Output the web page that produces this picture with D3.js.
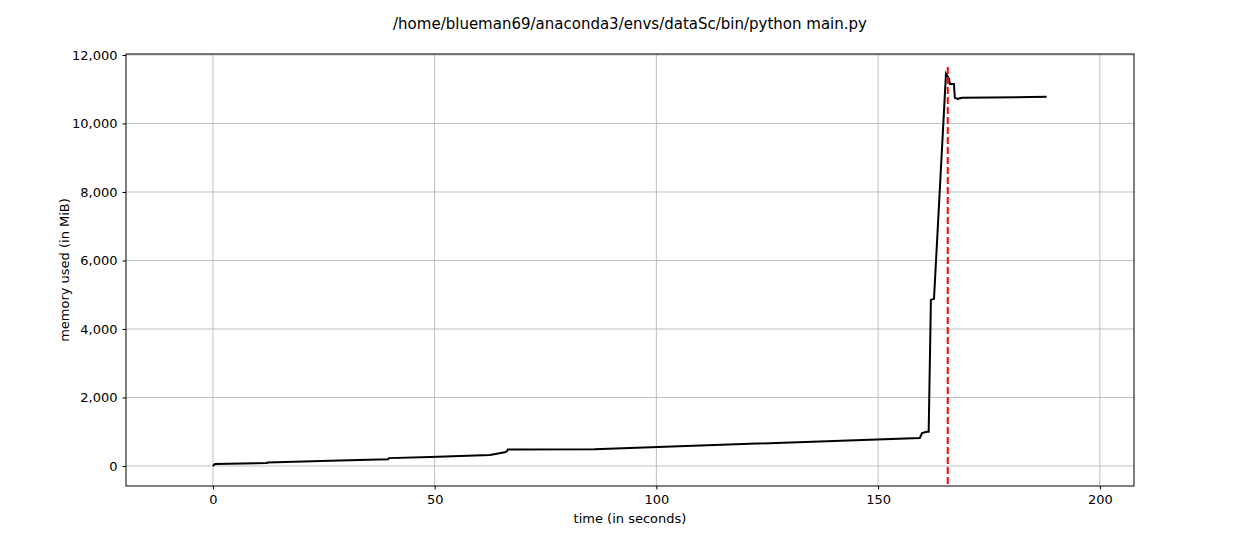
<!DOCTYPE html>
<html>
<head>
<meta charset="utf-8">
<script src="https://cdn.jsdelivr.net/npm/d3@7"></script>
<style>
  body { margin: 0; background: #fff; }
  text { font-family: "DejaVu Sans", sans-serif; }
</style>
</head>
<body>
<div id="plot"></div>
<script>
// time (s) and memory (MiB)
var times = [0, 0.45, 12.2, 12.3, 26.4, 39.5, 39.7, 49, 62.5, 65.8, 66.3, 66.5, 86, 159.4, 159.9, 161, 161.4, 161.9, 162.6, 165.3, 166, 166.2, 167.1, 167.3, 168, 168.9, 188];
var mems  = [0, 60, 90, 100, 150, 200, 230, 260, 320, 400, 430, 480, 490, 820, 960, 1000, 1000, 4850, 4880, 11450, 11300, 11150, 11150, 10750, 10720, 10750, 10780];
var peakTime = 165.7;
var xTicks = [0, 50, 100, 150, 200];
var yTicks = [0, 2000, 4000, 6000, 8000, 10000, 12000];

var data = times.map(function(t, i) { return {t: t, m: mems[i]}; });

var W = 1260, H = 540;
var margin = {top: 54, right: 126, bottom: 54, left: 126},
    width = 1134 - 126,
    height = 486 - 54;

var svg = d3.select("#plot").append("svg")
  .attr("width", W).attr("height", H);

svg.append("text")
  .attr("x", 630).attr("y", 29)
  .attr("text-anchor", "middle")
  .style("font-size", "15px")
  .text("/home/blueman69/anaconda3/envs/dataSc/bin/python main.py");

var g = svg.append("g")
  .attr("transform", "translate(" + margin.left + "," + margin.top + ")");

var x = d3.scaleLinear().domain([-19.6, 207.7]).range([0, width]);
var y = d3.scaleLinear().domain([-584, 12029]).range([height, 0]);

// grid
g.selectAll(".vgrid").data(xTicks).enter().append("line")
  .attr("x1", d => x(d)).attr("x2", d => x(d))
  .attr("y1", 0).attr("y2", height)
  .attr("stroke", "#b0b0b0").attr("stroke-width", 0.8);
g.selectAll(".hgrid").data(yTicks).enter().append("line")
  .attr("y1", d => y(d)).attr("y2", d => y(d))
  .attr("x1", 0).attr("x2", width)
  .attr("stroke", "#b0b0b0").attr("stroke-width", 0.8);

// axes
var xAxis = d3.axisBottom(x).tickValues(xTicks).tickSize(3.5).tickPadding(5);
var yAxis = d3.axisLeft(y).tickValues(yTicks).tickSize(3.5).tickPadding(5);
g.append("g").attr("transform", "translate(0," + height + ")").call(xAxis)
  .call(a => a.select(".domain").remove())
  .selectAll("text").style("font-size", "13px").attr("fill", "#000");
g.append("g").call(yAxis)
  .call(a => a.select(".domain").remove())
  .selectAll("text").style("font-size", "13px").attr("fill", "#000");

// memory line
g.append("path")
  .datum(data)
  .attr("fill", "none")
  .attr("stroke", "#000")
  .attr("stroke-width", 2)
  .attr("d", d3.line().x(d => x(d.t)).y(d => y(d.m)));

// peak marker
g.append("line")
  .attr("x1", x(peakTime)).attr("x2", x(peakTime))
  .attr("y1", y(11650)).attr("y2", height)
  .attr("stroke", "red").attr("stroke-width", 2)
  .attr("stroke-dasharray", "7,3");

// frame
g.append("rect")
  .attr("width", width).attr("height", height)
  .attr("fill", "none").attr("stroke", "#000").attr("stroke-width", 1);

svg.append("text")
  .attr("x", margin.left + width / 2).attr("y", 523)
  .attr("text-anchor", "middle")
  .style("font-size", "13px")
  .text("time (in seconds)");

svg.append("text")
  .attr("transform", "translate(69," + (margin.top + height / 2) + ") rotate(-90)")
  .attr("text-anchor", "middle")
  .style("font-size", "13px")
  .text("memory used (in MiB)");
</script>
</body>
</html>
